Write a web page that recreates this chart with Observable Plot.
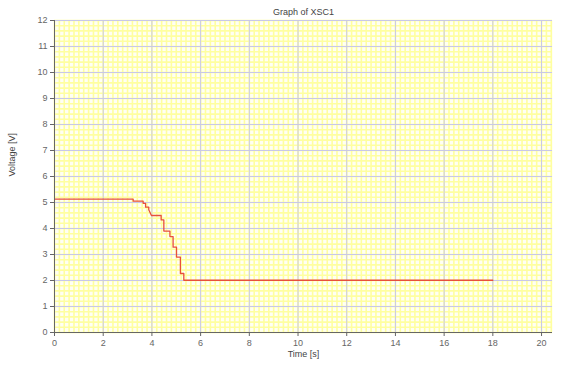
<!DOCTYPE html>
<html>
<head>
<meta charset="utf-8">
<script src="https://cdn.jsdelivr.net/npm/d3@7"></script>
<script src="https://cdn.jsdelivr.net/npm/@observablehq/plot@0.6"></script>
<style>
  html, body { margin: 0; padding: 0; background: #fff; }
  #chart { width: 565px; height: 368px; }
</style>
</head>
<body>
<div id="chart"></div>
<script>
const title = "Graph of XSC1";
const xLabel = "Time [s]";
const yLabel = "Voltage [V]";
const xTicks = [0, 2, 4, 6, 8, 10, 12, 14, 16, 18, 20];
const yTicks = [0, 1, 2, 3, 4, 5, 6, 7, 8, 9, 10, 11, 12];

// Trace
const time =    [0,    3.23, 3.23, 3.64, 3.64, 3.74, 3.74, 3.87, 3.87, 3.98, 4.38, 4.38, 4.49, 4.49, 4.74, 4.74, 4.87, 4.87, 5.01, 5.01, 5.17, 5.17, 5.31, 5.31, 18.0];
const voltage = [5.13, 5.13, 5.05, 5.05, 4.97, 4.97, 4.82, 4.82, 4.72, 4.50, 4.50, 4.33, 4.33, 3.90, 3.90, 3.69, 3.69, 3.28, 3.28, 2.90, 2.90, 2.27, 2.27, 2.01, 2.01];

const data = time.map((t, i) => ({t, v: voltage[i]}));
const xMax = 20.45;
const minorX = d3.range(0, xMax + 1e-9, 0.2).map(v => +v.toFixed(2));
const minorY = d3.range(0, 12 + 1e-9, 0.2).map(v => +v.toFixed(2));
const font = "Liberation Sans, Arial, sans-serif";

const chart = Plot.plot({
  width: 565,
  height: 368,
  marginLeft: 54,
  marginRight: 13,
  marginTop: 20,
  marginBottom: 36,
  style: {fontFamily: font, fontSize: "9px", color: "#555", background: "#fff"},
  x: {domain: [0, xMax], label: null},
  y: {domain: [0, 12], label: null},
  marks: [
    Plot.frame({fill: "#fffff4", stroke: null}),
    Plot.ruleX(minorX, {stroke: "#ffffa0", strokeWidth: 1.6}),
    Plot.ruleY(minorY, {stroke: "#ffffa0", strokeWidth: 1.6}),
    Plot.ruleX(xTicks, {stroke: "#c8c8e8", strokeWidth: 1}),
    Plot.ruleY(yTicks, {stroke: "#c8c8e8", strokeWidth: 1}),
    Plot.line(data, {x: "t", y: "v", stroke: "#e8503c", strokeWidth: 1.3}),
    Plot.ruleX([0], {stroke: "#666", strokeWidth: 1}),
    Plot.ruleY([0], {stroke: "#666", strokeWidth: 1}),
    Plot.axisX({ticks: xTicks, tickSize: 4, tickPadding: 3, label: null, stroke: "#666", fill: "#666"}),
    Plot.axisY({ticks: yTicks, tickSize: 4, tickPadding: 3, label: null, stroke: "#666", fill: "#666"}),
    Plot.text([title], {frameAnchor: "top", dy: -12, fill: "#444", fontSize: 9}),
    Plot.text([xLabel], {frameAnchor: "bottom", dy: 24, fill: "#444", fontSize: 9}),
    Plot.text([yLabel], {frameAnchor: "left", dx: -42, rotate: -90, fill: "#444", fontSize: 9})
  ]
});
document.getElementById("chart").appendChild(chart);
</script>
</body>
</html>
